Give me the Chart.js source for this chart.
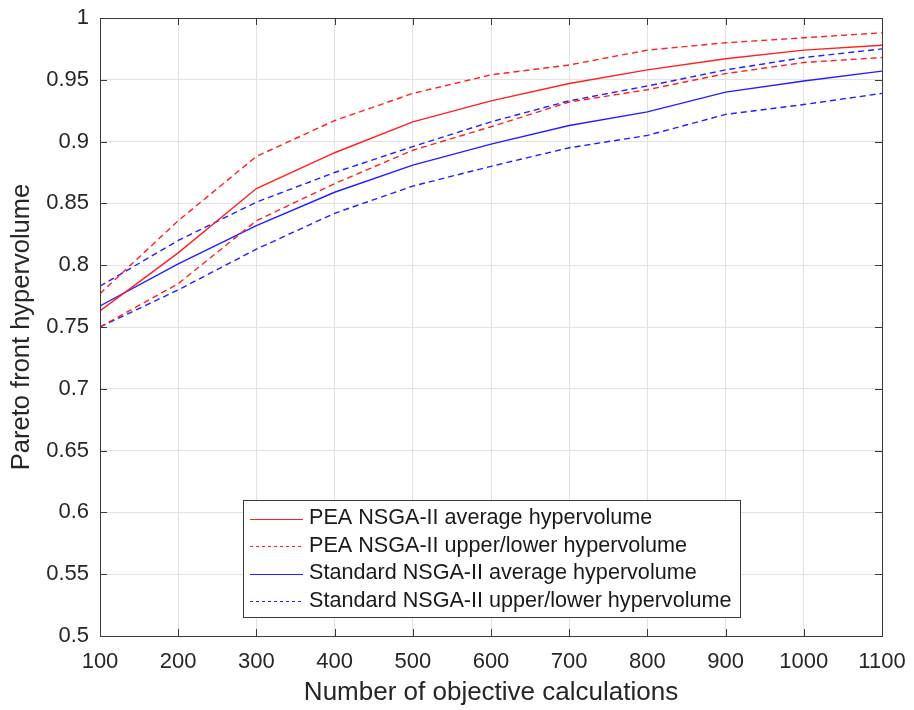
<!DOCTYPE html>
<html>

<head>
    <title>Pareto front hypervolume</title>
    <script src="https://cdn.jsdelivr.net/npm/chart.js"></script>
    <style>
        body { margin: 0; background: #fff; }
    </style>
</head>

<body>
    <canvas id="myChart" width="914" height="710"></canvas>
    <script>
        // Data
        const evaluations = [100, 200, 300, 400, 500, 600, 700, 800, 900, 1000, 1100];
        const peaAverage = [0.763, 0.810, 0.862, 0.891, 0.916, 0.933, 0.947, 0.958, 0.967, 0.974, 0.978];
        const peaUpper = [0.777, 0.836, 0.888, 0.917, 0.939, 0.954, 0.962, 0.974, 0.980, 0.984, 0.988];
        const peaLower = [0.750, 0.785, 0.836, 0.866, 0.893, 0.912, 0.932, 0.942, 0.955, 0.964, 0.968];
        const stdAverage = [0.767, 0.801, 0.832, 0.859, 0.881, 0.898, 0.913, 0.924, 0.940, 0.949, 0.957];
        const stdUpper = [0.783, 0.820, 0.851, 0.875, 0.896, 0.916, 0.933, 0.945, 0.958, 0.968, 0.975];
        const stdLower = [0.750, 0.780, 0.813, 0.842, 0.864, 0.880, 0.895, 0.905, 0.922, 0.930, 0.939];
        const legendLabels = [
            'PEA NSGA-II average hypervolume',
            'PEA NSGA-II upper/lower hypervolume',
            'Standard NSGA-II average hypervolume',
            'Standard NSGA-II upper/lower hypervolume'
        ];

        const RED = '#ff2020';
        const BLUE = '#2020ff';
        const DASH = [6, 4];
        const FONT = 'Arial, "Liberation Sans", sans-serif';
        const AXIS = '#3a3a3a';

        const toPoints = ys => ys.map((y, i) => ({ x: evaluations[i], y: y }));

        function line(label, ys, color, dashed) {
            return {
                label: label,
                data: toPoints(ys),
                borderColor: color,
                borderWidth: 1.4,
                borderDash: dashed ? DASH : [],
                pointRadius: 0,
                fill: false,
                tension: 0
            };
        }

        const datasets = [
            line(legendLabels[0], peaAverage, RED, false),
            line(legendLabels[1], peaUpper, RED, true),
            line(legendLabels[1], peaLower, RED, true),
            line(legendLabels[2], stdAverage, BLUE, false),
            line(legendLabels[3], stdUpper, BLUE, true),
            line(legendLabels[3], stdLower, BLUE, true)
        ];

        // box round the axes with inward ticks on all four sides
        const framePlugin = {
            id: 'frame',
            afterDatasetsDraw(chart) {
                const { ctx, chartArea: a, scales } = chart;
                const len = 7;
                ctx.save();
                ctx.strokeStyle = AXIS;
                ctx.lineWidth = 1;
                ctx.strokeRect(a.left + 0.5, a.top + 0.5, a.right - a.left, a.bottom - a.top);
                ctx.beginPath();
                scales.x.ticks.forEach(t => {
                    const px = Math.round(scales.x.getPixelForValue(t.value)) + 0.5;
                    ctx.moveTo(px, a.bottom); ctx.lineTo(px, a.bottom - len);
                    ctx.moveTo(px, a.top); ctx.lineTo(px, a.top + len);
                });
                scales.y.ticks.forEach(t => {
                    const py = Math.round(scales.y.getPixelForValue(t.value)) + 0.5;
                    ctx.moveTo(a.left, py); ctx.lineTo(a.left + len, py);
                    ctx.moveTo(a.right, py); ctx.lineTo(a.right - len, py);
                });
                ctx.stroke();
                ctx.restore();
            }
        };

        // legend drawn inside the axes, near the bottom
        const boxLegendPlugin = {
            id: 'boxLegend',
            afterDraw(chart) {
                const ctx = chart.ctx;
                const entries = [
                    { text: legendLabels[0], color: RED, dash: [] },
                    { text: legendLabels[1], color: RED, dash: [3, 3] },
                    { text: legendLabels[2], color: BLUE, dash: [] },
                    { text: legendLabels[3], color: BLUE, dash: [3, 3] }
                ];
                const x0 = 243, y0 = 500, w = 497, h = 117;
                ctx.save();
                ctx.fillStyle = '#fff';
                ctx.fillRect(x0, y0, w, h);
                ctx.strokeStyle = AXIS;
                ctx.lineWidth = 1;
                ctx.strokeRect(x0 + 0.5, y0 + 0.5, w, h);
                ctx.font = '21.6px ' + FONT;
                ctx.textBaseline = 'middle';
                ctx.textAlign = 'left';
                entries.forEach((e, i) => {
                    const cy = 518.5 + i * 27.5;
                    ctx.beginPath();
                    ctx.setLineDash(e.dash);
                    ctx.strokeStyle = e.color;
                    ctx.lineWidth = 1.2;
                    ctx.moveTo(250, Math.round(cy) + 0.5);
                    ctx.lineTo(303, Math.round(cy) + 0.5);
                    ctx.stroke();
                    ctx.setLineDash([]);
                    ctx.fillStyle = '#1a1a1a';
                    ctx.fillText(e.text, 309, cy);
                });
                ctx.restore();
            }
        };

        const config = {
            type: 'line',
            data: { datasets: datasets },
            options: {
                responsive: false,
                animation: false,
                layout: { padding: { top: 18, right: 32, bottom: 0, left: 0 } },
                plugins: {
                    legend: { display: false },
                    tooltip: { enabled: false }
                },
                scales: {
                    x: {
                        type: 'linear',
                        min: 100,
                        max: 1100,
                        ticks: {
                            stepSize: 100,
                            color: '#262626',
                            font: { family: FONT, size: 22 },
                            padding: 13,
                            maxRotation: 0,
                            callback: v => String(v)
                        },
                        grid: { color: '#e2e2e2', drawTicks: false },
                        border: { display: false },
                        title: {
                            display: true,
                            text: 'Number of objective calculations',
                            color: '#262626',
                            font: { family: FONT, size: 26 },
                            padding: { top: 0, bottom: 2 }
                        },
                        afterFit(scale) {
                            scale.height = 74;
                            scale.paddingLeft = 0;
                            scale.paddingRight = 0;
                        }
                    },
                    y: {
                        min: 0.5,
                        max: 1,
                        ticks: {
                            stepSize: 0.05,
                            color: '#262626',
                            font: { family: FONT, size: 22 },
                            padding: 11,
                            callback: v => String(Number(v.toFixed(2)))
                        },
                        grid: { color: '#e2e2e2', drawTicks: false },
                        border: { display: false },
                        title: {
                            display: true,
                            text: 'Pareto front hypervolume',
                            color: '#262626',
                            font: { family: FONT, size: 25.5 },
                            padding: { top: 7, bottom: 0 }
                        },
                        afterFit(scale) {
                            scale.width = 100;
                            scale.paddingTop = 0;
                            scale.paddingBottom = 0;
                        }
                    }
                }
            },
            plugins: [framePlugin, boxLegendPlugin]
        };

        var myChart = new Chart(document.getElementById('myChart'), config);
    </script>
</body>

</html>
